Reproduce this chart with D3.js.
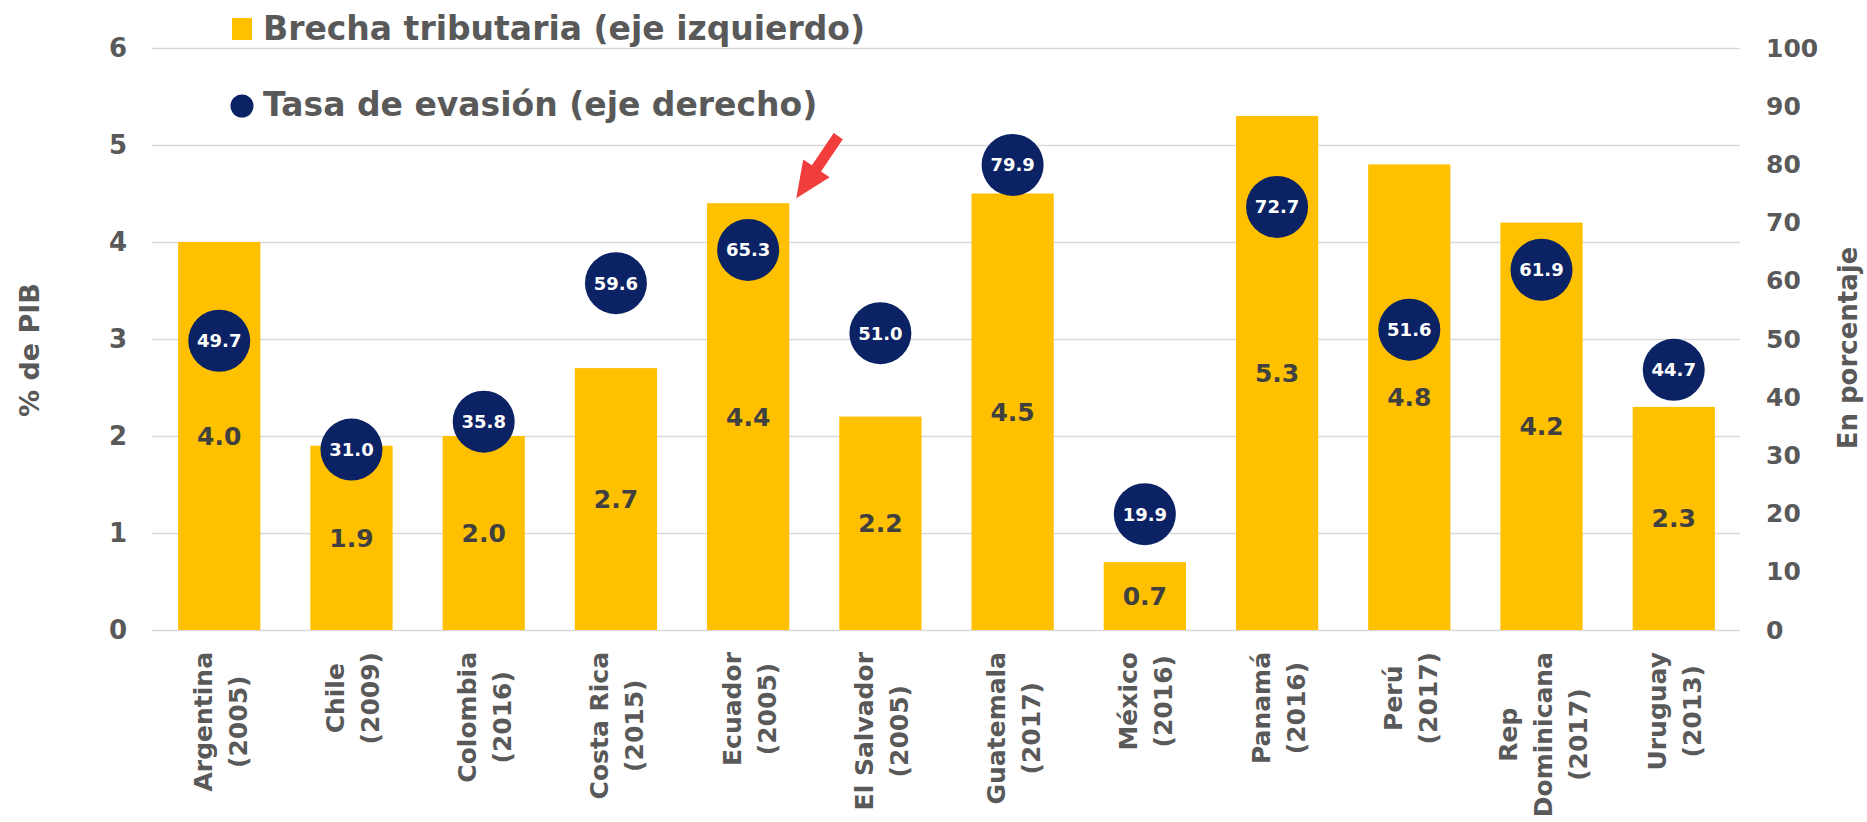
<!DOCTYPE html>
<html>
<head>
<meta charset="utf-8">
<script src="https://cdn.jsdelivr.net/npm/d3@7/dist/d3.min.js"></script>
<style>
  html, body { margin: 0; padding: 0; background: #ffffff; }
  svg { display: block; }
  text { font-family: "DejaVu Sans", Verdana, sans-serif; font-weight: bold; }
</style>
</head>
<body>
<svg id="chart" width="1867" height="822"></svg>
<script>
// ---------- DATA ----------
const categories = [
  "Argentina|(2005)", "Chile|(2009)", "Colombia|(2016)", "Costa Rica|(2015)",
  "Ecuador|(2005)", "El Salvador|(2005)", "Guatemala|(2017)", "México|(2016)",
  "Panamá|(2016)", "Perú|(2017)", "Rep|Dominicana|(2017)", "Uruguay|(2013)"
];
const brechaTributaria = [4.0, 1.9, 2.0, 2.7, 4.4, 2.2, 4.5, 0.7, 5.3, 4.8, 4.2, 2.3];
const tasaEvasion = [49.7, 31.0, 35.8, 59.6, 65.3, 51.0, 79.9, 19.9, 72.7, 51.6, 61.9, 44.7];
const leftTicks = [0, 1, 2, 3, 4, 5, 6];
const rightTicks = [0, 10, 20, 30, 40, 50, 60, 70, 80, 90, 100];
const legendLabels = ["Brecha tributaria (eje izquierdo)", "Tasa de evasión (eje derecho)"];
const leftTitle = "% de PIB";
const rightTitle = "En porcentaje";
const highlighted = "Ecuador|(2005)";

// ---------- LAYOUT ----------
const svg = d3.select("#chart");
const plot = { left: 153, right: 1740, top: 48, bottom: 630 };
const barColor = "#FFC000";
const dotColor = "#0b2364";
const textGray = "#595959";
const labelDark = "#404040";

const x = d3.scaleBand().domain(categories)
  .range([plot.left, plot.right]).paddingInner(0.378).paddingOuter(0.19);
const yL = d3.scaleLinear().domain([0, 6]).range([plot.bottom, plot.top]);
const yR = d3.scaleLinear().domain([0, 100]).range([plot.bottom, plot.top]);

// gridlines
svg.append("g")
  .attr("transform", `translate(${plot.left - 1},0)`)
  .call(d3.axisLeft(yL).tickValues(leftTicks).tickSize(-(plot.right - plot.left + 1)).tickFormat(""))
  .call(g => g.select(".domain").remove())
  .call(g => g.selectAll("line").attr("stroke", "#d9d9d9").attr("stroke-width", 1.6));

// left axis labels
svg.append("g")
  .attr("transform", `translate(${plot.left},0)`)
  .call(d3.axisLeft(yL).tickValues(leftTicks).tickSize(0).tickPadding(26).tickFormat(d3.format("d")))
  .call(g => g.select(".domain").remove())
  .call(g => g.selectAll("text").attr("fill", textGray).style("font-size", "26px")
      .style("font-family", "'DejaVu Sans', sans-serif").style("font-weight", "bold"));

// right axis labels
svg.append("g")
  .attr("transform", `translate(${plot.right},0)`)
  .call(d3.axisRight(yR).tickValues(rightTicks).tickSize(0).tickPadding(26).tickFormat(d3.format("d")))
  .call(g => g.select(".domain").remove())
  .call(g => g.selectAll("text").attr("fill", textGray).style("font-size", "25px")
      .style("font-family", "'DejaVu Sans', sans-serif").style("font-weight", "bold"));

// axis titles
svg.append("text")
  .attr("transform", `translate(39,350) rotate(-90)`)
  .attr("text-anchor", "middle").attr("fill", textGray)
  .style("font-size", "27px").text(leftTitle);
svg.append("text")
  .attr("transform", `translate(1857,348) rotate(-90)`)
  .attr("text-anchor", "middle").attr("fill", textGray)
  .style("font-size", "26px").text(rightTitle);

// bars
const rows = categories.map((c, i) => ({ c, b: brechaTributaria[i], e: tasaEvasion[i] }));
svg.append("g").selectAll("rect").data(rows).join("rect")
  .attr("x", d => x(d.c)).attr("width", x.bandwidth())
  .attr("y", d => yL(d.b)).attr("height", d => yL(0) - yL(d.b))
  .attr("fill", barColor);

// bar value labels (middle of bar)
svg.append("g").selectAll("text").data(rows).join("text")
  .attr("x", d => x(d.c) + x.bandwidth() / 2)
  .attr("y", d => (yL(d.b) + yL(0)) / 2)
  .attr("dy", "0.36em").attr("text-anchor", "middle")
  .attr("fill", labelDark).style("font-size", "25px")
  .text(d => d3.format(".1f")(d.b));

// dots
const dots = svg.append("g").selectAll("g").data(rows).join("g")
  .attr("transform", d => `translate(${x(d.c) + x.bandwidth() / 2},${yR(d.e)})`);
dots.append("circle").attr("r", 31).attr("fill", dotColor);
dots.append("text").attr("text-anchor", "middle").attr("dy", "0.36em")
  .attr("fill", "#ffffff").style("font-size", "18px")
  .text(d => d3.format(".1f")(d.e));

// category labels (rotated, multi-line, centered, top-aligned under axis)
const pitch = 35, capHalf = 9, labelTop = 652;
categories.forEach(c => {
  const lines = c.split("|");
  const cx = x(c) + x.bandwidth() / 2;
  const g = svg.append("g");
  const texts = lines.map(l => g.append("text").attr("fill", textGray)
    .style("font-size", "25px").attr("text-anchor", "middle").text(l));
  const maxLen = d3.max(texts, t => t.node().getComputedTextLength());
  const n = lines.length;
  texts.forEach((t, i) => {
    const bx = cx + (i - (n - 1) / 2) * pitch + capHalf + 1;
    t.attr("transform", `translate(${bx},${labelTop + maxLen / 2}) rotate(-90)`);
  });
});

// legend
const lg = svg.append("g");
lg.append("rect").attr("x", 232).attr("y", 18).attr("width", 20).attr("height", 22).attr("fill", barColor);
lg.append("text").attr("x", 263).attr("y", 40).attr("fill", textGray)
  .style("font-size", "33px").text(legendLabels[0]);
lg.append("circle").attr("cx", 242).attr("cy", 106).attr("r", 11.5).attr("fill", dotColor);
lg.append("text").attr("x", 263).attr("y", 116).attr("fill", textGray)
  .style("font-size", "33px").text(legendLabels[1]);

// red arrow pointing to the highlighted bar's top-right corner
const hi = rows.find(r => r.c === highlighted);
const tip = [x(hi.c) + x.bandwidth() + 7, yL(hi.b) - 5];
const tail = [tip[0] + 42, tip[1] - 62];
const len = Math.hypot(tail[0] - tip[0], tail[1] - tip[1]);
const u = [(tip[0] - tail[0]) / len, (tip[1] - tail[1]) / len];
const nrm = [-u[1], u[0]];
const headLen = 36, shaftW = 5.5, headW = 16;
const neck = [tip[0] - u[0] * headLen, tip[1] - u[1] * headLen];
const pt = (p, k) => [p[0] + nrm[0] * k, p[1] + nrm[1] * k];
const poly = [pt(tail, shaftW), pt(neck, shaftW), pt(neck, headW), tip,
              pt(neck, -headW), pt(neck, -shaftW), pt(tail, -shaftW)];
svg.append("path").attr("d", d3.line()(poly) + "Z").attr("fill", "#f23d3d");
</script>
</body>
</html>
